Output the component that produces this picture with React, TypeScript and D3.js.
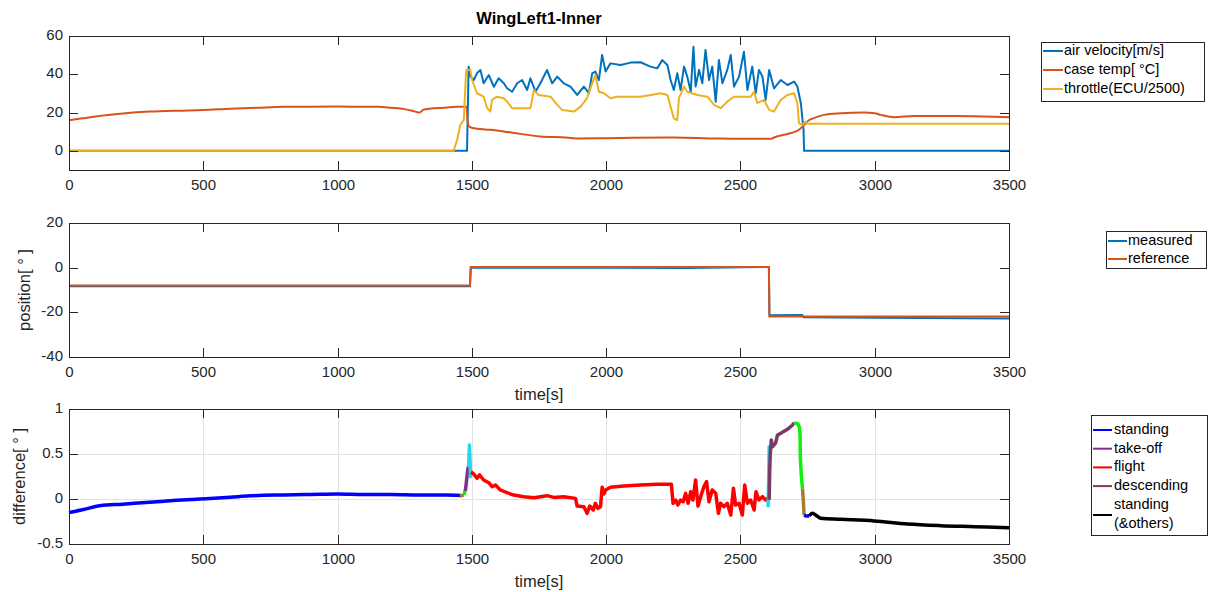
import React from "react";
import * as d3 from "d3";

type P = [number, number];

// ---------- DATA ----------
const xTicks = [0, 500, 1000, 1500, 2000, 2500, 3000, 3500];
const yTicks1 = [0, 20, 40, 60];
const yTicks2 = [-40, -20, 0, 20];
const yTicks3 = [-0.5, 0, 0.5, 1];
const yTickLabels3 = ["-0.5", "0", "0.5", "1"];

const airVelocity: P[] = [
  [0, 0], [1482, 0], [1488, 44], [1495, 38.8], [1507, 37], [1519, 40.5], [1532, 42.2], [1544, 35.3],
  [1563, 39.6], [1582, 33.5], [1600, 37.9], [1619, 35.3], [1631, 32.7], [1650, 30.9], [1669, 35.3],
  [1687, 37], [1706, 31.8], [1718, 37.9], [1737, 30.9], [1755, 35.3], [1780, 42.2], [1799, 35.3],
  [1818, 38.8], [1842, 35.3], [1867, 33.6], [1892, 29.2], [1917, 33.6], [1936, 30.1], [1948, 40.5],
  [1960, 41.4], [1973, 37], [1985, 50.1], [1998, 41.4], [2016, 45.7], [2054, 44.9], [2091, 46.1],
  [2128, 46.3], [2165, 44], [2190, 43.1], [2209, 47.4], [2228, 44.9], [2240, 37], [2252, 31.8],
  [2265, 40.5], [2277, 31.8], [2290, 44], [2302, 38.8], [2315, 30.9], [2325, 54.4], [2333, 33.6],
  [2346, 42.3], [2358, 35.3], [2370, 52.7], [2383, 37], [2395, 44], [2408, 25.7], [2420, 47.5],
  [2433, 35.3], [2451, 42.3], [2464, 50.1], [2476, 33.6], [2495, 38.8], [2513, 51.8], [2526, 31.8],
  [2544, 44], [2557, 30.1], [2569, 42.3], [2582, 38.8], [2594, 26.6], [2607, 42.3], [2625, 32.7],
  [2650, 37], [2675, 34.4], [2700, 36.2], [2712, 33.6], [2725, 24.9], [2735, 11], [2737, 0], [3500, 0],
];

const caseTemp: P[] = [
  [0, 16], [50, 17], [100, 18], [200, 19.5], [300, 20.5], [400, 21], [500, 21.3], [600, 22],
  [700, 22.5], [800, 23], [900, 23.1], [1000, 23.2], [1100, 23], [1150, 23], [1200, 22.5],
  [1250, 21.8], [1290, 20.5], [1305, 20], [1320, 21.5], [1360, 22.3], [1400, 22.5], [1440, 23],
  [1480, 23.1], [1485, 15], [1490, 12.7], [1520, 11.5], [1569, 11], [1650, 9.5], [1755, 7.5],
  [1850, 7], [1900, 6.5], [2004, 6.6], [2100, 6.8], [2252, 7], [2400, 6.5], [2500, 6.3],
  [2613, 6.3], [2625, 7], [2688, 9.3], [2718, 11], [2737, 13.6], [2755, 16], [2774, 17.1],
  [2811, 18.8], [2874, 19.6], [2960, 20], [3000, 19.6], [3023, 18.8], [3072, 17.6], [3147, 18.2],
  [3300, 18.2], [3400, 18], [3500, 17.6],
];

const throttle: P[] = [
  [0, 0], [1432, 0], [1445, 5.7], [1457, 13.6], [1470, 16.2], [1478, 40], [1480, 42.3], [1494, 42.3],
  [1501, 37], [1519, 30.1], [1544, 28.3], [1557, 22.3], [1569, 20.5], [1575, 26.6], [1594, 28.3],
  [1619, 27.5], [1631, 25.7], [1650, 22.3], [1718, 22.3], [1731, 31.8], [1749, 29.2], [1793, 28.3],
  [1818, 24], [1836, 21.4], [1880, 20.5], [1905, 23.1], [1929, 27.5], [1948, 35.3], [1960, 39.6],
  [1973, 30.9], [1992, 30.1], [2016, 27.5], [2041, 28.3], [2128, 28.3], [2203, 30.1], [2228, 29.2],
  [2240, 23.1], [2252, 17], [2265, 16.1], [2271, 27.5], [2290, 33.6], [2302, 30.9], [2340, 29.2],
  [2377, 28.3], [2402, 24], [2426, 22.3], [2451, 25.7], [2476, 28.3], [2538, 28.3], [2551, 30.9],
  [2563, 24.9], [2588, 26.6], [2607, 21.4], [2625, 20.5], [2650, 26.6], [2675, 29.2], [2700, 30.1],
  [2712, 24.9], [2718, 14.4], [2731, 13.6], [2743, 15.3], [2750, 14.1], [3500, 14.1],
];

const posMeasured: P[] = [
  [0, -8.3], [1493, -8.3], [1496, 0], [2000, 0], [2300, -0.2], [2606, 0.3], [2608, -21.3],
  [2730, -21.2], [2735, -22.2], [3000, -22.4], [3500, -22.8],
];
const posReference: P[] = [
  [0, -8], [1493, -8], [1496, 0.3], [2606, 0.3], [2608, -21.9], [3500, -21.9],
];

const diffStanding: P[] = [
  [0, -0.15], [50, -0.12], [115, -0.074], [200, -0.057], [300, -0.037], [400, -0.015], [487, 0],
  [600, 0.02], [673, 0.035], [800, 0.045], [900, 0.05], [1000, 0.055], [1100, 0.05], [1200, 0.05],
  [1300, 0.045], [1400, 0.045], [1460, 0.04],
];
const diffBrown1: P[] = [[1455, 0.035], [1465, 0.04], [1470, 0.045]];
const diffGreen1: P[] = [[1470, 0.045], [1474, 0.08], [1476, 0.11]];
const diffTakeoff: P[] = [[1476, 0.09], [1480, 0.2], [1485, 0.33], [1488, 0.36]];
const diffCyan1: P[] = [[1488, 0.36], [1491, 0.6], [1493, 0.45], [1495, 0.25], [1497, 0.3]];
const diffFlight: P[] = [
  [1497, 0.3], [1507, 0.278], [1519, 0.23], [1529, 0.267], [1544, 0.211], [1563, 0.181],
  [1575, 0.137], [1588, 0.155], [1606, 0.1], [1631, 0.07], [1656, 0.044], [1693, 0.026],
  [1731, 0.015], [1780, 0.037], [1805, 0.018], [1842, 0.026], [1886, 0.007], [1892, -0.078],
  [1917, -0.085], [1929, -0.159], [1939, -0.078], [1952, -0.122], [1960, -0.048], [1969, -0.104],
  [1979, -0.085], [1985, 0.13], [1992, 0.056], [1998, 0.1], [2016, 0.13], [2066, 0.144],
  [2128, 0.156], [2190, 0.163], [2243, 0.163], [2249, -0.048], [2259, -0.011], [2267, -0.067],
  [2277, -0.011], [2287, -0.03], [2296, 0.063], [2305, -0.048], [2315, 0.081], [2323, -0.011],
  [2333, 0.211], [2342, -0.078], [2352, 0.026], [2364, 0.137], [2374, 0.193], [2383, -0.03],
  [2395, 0.1], [2408, 0.063], [2418, -0.159], [2426, -0.048], [2439, -0.085], [2451, -0.048],
  [2464, -0.178], [2474, 0.119], [2482, -0.067], [2495, -0.048], [2507, -0.178], [2516, 0.156],
  [2526, -0.048], [2538, -0.011], [2551, -0.122], [2558, 0.081], [2569, -0.011], [2582, 0.026],
  [2594, -0.011], [2600, 0.007], [2604, -0.02],
];
const diffCyan2: P[] = [[2603, -0.09], [2605, 0.2], [2607, 0.58], [2609, 0.5]];
const diffDescending: P[] = [
  [2607, -0.01], [2609, 0.3], [2611, 0.5], [2615, 0.656], [2619, 0.58], [2631, 0.62], [2638, 0.71],
  [2650, 0.73], [2675, 0.774], [2694, 0.822], [2700, 0.848],
];
const diffGreen2: P[] = [
  [2700, 0.848], [2708, 0.84], [2715, 0.833], [2720, 0.79], [2722, 0.72], [2723, 0.47],
  [2727, 0.25], [2731, 0.118],
];
const diffBrown2: P[] = [[2731, 0.118], [2734, -0.01], [2737, -0.18]];
const diffBlue2: P[] = [[2737, -0.18], [2745, -0.19], [2756, -0.189]];
const diffOthers: P[] = [
  [2756, -0.189], [2768, -0.159], [2780, -0.178], [2799, -0.215], [2874, -0.226], [2998, -0.244],
  [3122, -0.278], [3246, -0.296], [3371, -0.307], [3500, -0.319],
];

const legend1 = ["air velocity[m/s]", "case temp[ °C]", "throttle(ECU/2500)"];
const legend2 = ["measured", "reference"];
const legend3 = ["standing", "take-off", "flight", "descending"];

// ---------- STYLE ----------
const C_BLUE = "#0072BD";
const C_ORANGE = "#D95319";
const C_YELLOW = "#EDB120";
const C_STAND = "#0000FF";
const C_TAKEOFF = "#7E2F8E";
const C_FLIGHT = "#FF0000";
const C_DESC = "#7A3A68";
const C_CYAN = "#22D8EE";
const C_GREEN = "#11EE11";
const C_BROWN = "#A67C2E";
const AX = "#262626";
const FONT = "'Liberation Sans', Arial, Helvetica, sans-serif";

const W = 1209;
const H = 592;
const X0 = 69;
const X1 = 1009;

const x = d3.scaleLinear().domain([0, 3500]).range([X0, X1]);

type Panel = {
  top: number;
  bottom: number;
  domain: [number, number];
  ticks: number[];
  labels?: string[];
  grid?: boolean;
};

function Grid({ p, y }: { p: Panel; y: d3.ScaleLinear<number, number> }) {
  return (
    <g>
      {xTicks.map((t) => (
        <line key={"gx" + t} x1={Math.round(x(t)) + 0.5} x2={Math.round(x(t)) + 0.5} y1={p.top} y2={p.bottom} stroke="#E2E2E2" strokeWidth={1} />
      ))}
      {p.ticks.map((t) => (
        <line key={"gy" + t} x1={X0} x2={X1} y1={Math.round(y(t)) + 0.5} y2={Math.round(y(t)) + 0.5} stroke="#E2E2E2" strokeWidth={1} />
      ))}
    </g>
  );
}

function Frame({ p, y, ylabel, xlabel, ylabelX }: { p: Panel; y: d3.ScaleLinear<number, number>; ylabel?: string; xlabel?: string; ylabelX?: number }) {
  const tl = 9;
  const cx = (X0 + X1) / 2;
  return (
    <g>
      <rect x={X0 + 0.5} y={p.top + 0.5} width={X1 - X0} height={p.bottom - p.top} fill="none" stroke={AX} strokeWidth={1} />
      {xTicks.map((t) => {
        const xx = Math.round(x(t)) + 0.5;
        return (
          <g key={"xt" + t}>
            <line x1={xx} x2={xx} y1={p.bottom} y2={p.bottom - tl} stroke={AX} />
            <line x1={xx} x2={xx} y1={p.top} y2={p.top + tl} stroke={AX} />
            <text x={xx} y={p.bottom + 16} fontSize={15} fill={AX} textAnchor="middle" dominantBaseline="middle" fontFamily={FONT}>
              {t}
            </text>
          </g>
        );
      })}
      {p.ticks.map((t, i) => {
        const yy = Math.round(y(t)) + 0.5;
        return (
          <g key={"yt" + t}>
            <line x1={X0} x2={X0 + tl} y1={yy} y2={yy} stroke={AX} />
            <line x1={X1} x2={X1 - tl} y1={yy} y2={yy} stroke={AX} />
            <text x={X0 - 6} y={yy} fontSize={15} fill={AX} textAnchor="end" dominantBaseline="middle" fontFamily={FONT}>
              {p.labels ? p.labels[i] : t}
            </text>
          </g>
        );
      })}
      {ylabel && (
        <text
          transform={`translate(${ylabelX},${(p.top + p.bottom) / 2}) rotate(-90)`}
          fontSize={16.5}
          fill={AX}
          textAnchor="middle"
          dominantBaseline="middle"
          fontFamily={FONT}
        >
          {ylabel}
        </text>
      )}
      {xlabel && (
        <text x={cx} y={p.bottom + 39} fontSize={16.5} fill={AX} textAnchor="middle" dominantBaseline="middle" fontFamily={FONT}>
          {xlabel}
        </text>
      )}
    </g>
  );
}

export default function App() {
  const p1: Panel = { top: 36, bottom: 170, domain: [-10, 60], ticks: yTicks1 };
  const p2: Panel = { top: 223, bottom: 357, domain: [-40, 20], ticks: yTicks2 };
  const p3: Panel = { top: 409, bottom: 544, domain: [-0.5, 1], ticks: yTicks3, labels: yTickLabels3, grid: true };
  const y1 = d3.scaleLinear().domain(p1.domain).range([p1.bottom, p1.top]);
  const y2 = d3.scaleLinear().domain(p2.domain).range([p2.bottom, p2.top]);
  const y3 = d3.scaleLinear().domain(p3.domain).range([p3.bottom, p3.top]);

  const ln = (y: d3.ScaleLinear<number, number>, smooth = false) => {
    const g = d3
      .line<P>()
      .x((d) => x(d[0]))
      .y((d) => y(d[1]));
    if (smooth) g.curve(d3.curveMonotoneX);
    return g;
  };

  const l1 = ln(y1);
  const l1s = ln(y1, true);
  const l2 = ln(y2);
  const l3 = ln(y3);
  const l3s = ln(y3, true);

  const diffSeries: [P[], string, boolean][] = [
    [diffStanding, C_STAND, true],
    [diffBrown1, C_BROWN, false],
    [diffGreen1, C_GREEN, false],
    [diffTakeoff, C_TAKEOFF, false],
    [diffCyan1, C_CYAN, false],
    [diffFlight, C_FLIGHT, false],
    [diffCyan2, C_CYAN, false],
    [diffDescending, C_DESC, false],
    [diffGreen2, C_GREEN, false],
    [diffBrown2, C_BROWN, false],
    [diffBlue2, C_STAND, false],
    [diffOthers, "#000000", true],
  ];

  const leg1Colors = [C_BLUE, C_ORANGE, C_YELLOW];
  const leg2Colors = [C_BLUE, C_ORANGE];
  const leg3Colors = [C_STAND, C_TAKEOFF, C_FLIGHT, C_DESC];

  return (
    <svg width={W} height={H} style={{ position: "absolute", left: 0, top: 0, background: "#fff" }} fontFamily={FONT}>
      <rect x={0} y={0} width={W} height={H} fill="#fff" />
      <text x={(X0 + X1) / 2} y={20} fontSize={16.5} fontWeight="bold" textAnchor="middle" dominantBaseline="middle" fill="#000">
        WingLeft1-Inner
      </text>

      {/* Panel 1 */}
      <g fill="none" strokeWidth={2} strokeLinejoin="round">
        <path d={l1(airVelocity) || ""} stroke={C_BLUE} />
        <path d={l1s(caseTemp) || ""} stroke={C_ORANGE} />
        <path d={l1(throttle) || ""} stroke={C_YELLOW} />
      </g>
      <Frame p={p1} y={y1} />

      {/* Panel 2 */}
      <g fill="none" strokeWidth={2}>
        <path d={l2(posMeasured) || ""} stroke={C_BLUE} />
        <path d={l2(posReference) || ""} stroke={C_ORANGE} />
      </g>
      <Frame p={p2} y={y2} ylabel="position[ ° ]" ylabelX={26} xlabel="time[s]" />

      {/* Panel 3 */}
      <Grid p={p3} y={y3} />
      <g fill="none" strokeWidth={3.5} strokeLinejoin="round">
        {diffSeries.map(([d, c, s], i) => (
          <path key={i} d={(s ? l3s(d) : l3(d)) || ""} stroke={c} />
        ))}
      </g>
      <Frame p={p3} y={y3} ylabel="difference[ ° ]" ylabelX={21} xlabel="time[s]" />

      {/* Legend 1 */}
      <g>
        <rect x={1041.5} y={42.5} width={163} height={59} fill="#fff" stroke={AX} strokeWidth={1} />
        {legend1.map((s, i) => (
          <g key={s}>
            <line x1={1043} x2={1063} y1={51 + i * 19} y2={51 + i * 19} stroke={leg1Colors[i]} strokeWidth={2} />
            <text x={1064} y={51 + i * 19} fontSize={14.5} dominantBaseline="middle" fill="#000">
              {s}
            </text>
          </g>
        ))}
      </g>

      {/* Legend 2 */}
      <g>
        <rect x={1106.5} y={231.5} width={100} height={37} fill="#fff" stroke={AX} strokeWidth={1} />
        {legend2.map((s, i) => (
          <g key={s}>
            <line x1={1108} x2={1127} y1={241 + i * 18} y2={241 + i * 18} stroke={leg2Colors[i]} strokeWidth={2} />
            <text x={1128} y={241 + i * 18} fontSize={14.5} dominantBaseline="middle" fill="#000">
              {s}
            </text>
          </g>
        ))}
      </g>

      {/* Legend 3 */}
      <g>
        <rect x={1091.5} y={415.5} width={116} height={120} fill="#fff" stroke={AX} strokeWidth={1} />
        {legend3.map((s, i) => (
          <g key={s}>
            <line x1={1093} x2={1112} y1={430 + i * 18.7} y2={430 + i * 18.7} stroke={leg3Colors[i]} strokeWidth={2} />
            <text x={1114} y={430 + i * 18.7} fontSize={14.5} dominantBaseline="middle" fill="#000">
              {s}
            </text>
          </g>
        ))}
        <line x1={1093} x2={1112} y1={515} y2={515} stroke="#000" strokeWidth={2} />
        <text x={1114} y={505} fontSize={14.5} dominantBaseline="middle" fill="#000">
          standing
        </text>
        <text x={1114} y={524.5} fontSize={14.5} dominantBaseline="middle" fill="#000">
          (&amp;others)
        </text>
      </g>
    </svg>
  );
}
